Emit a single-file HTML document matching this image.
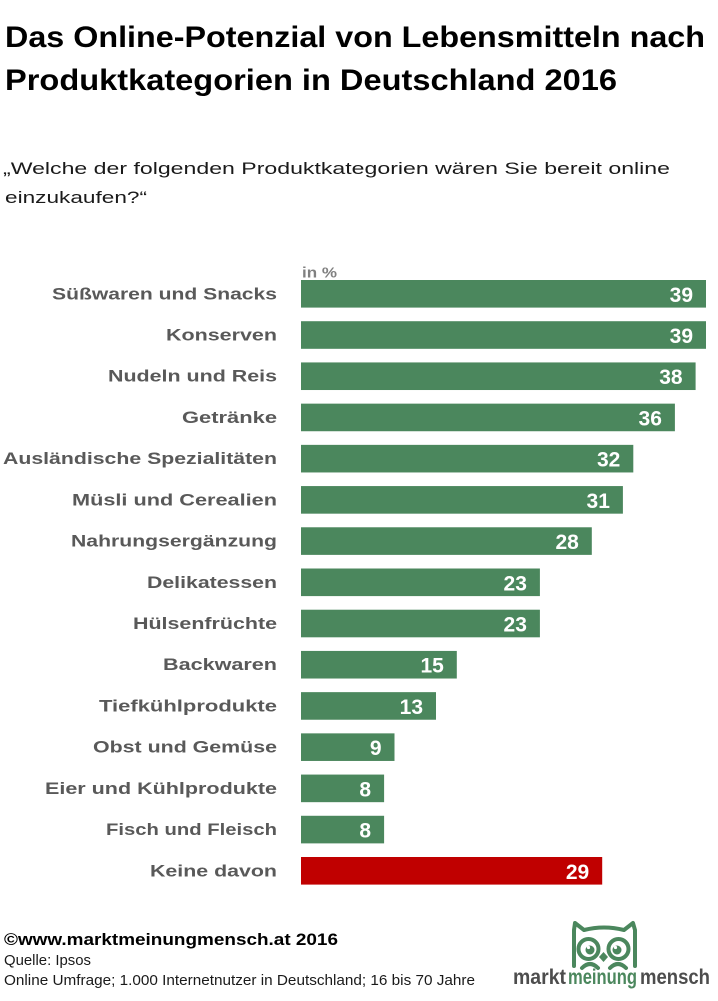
<!DOCTYPE html>
<html>
<head>
<meta charset="utf-8">
<style>
  html,body{margin:0;padding:0;background:#fff;}
  svg{display:block;}
  .t{font-family:"Liberation Sans",sans-serif;}
</style>
</head>
<body>
<svg width="718" height="1001" viewBox="0 0 718 1001" xmlns="http://www.w3.org/2000/svg">
  <rect width="718" height="1001" fill="#fff"/>
  <!-- Title -->
  <text class="t" x="5" y="47" font-size="30" font-weight="bold" fill="#000" textLength="700" lengthAdjust="spacingAndGlyphs">Das Online-Potenzial von Lebensmitteln nach</text>
  <text class="t" x="5" y="90" font-size="30" font-weight="bold" fill="#000" textLength="612" lengthAdjust="spacingAndGlyphs">Produktkategorien in Deutschland 2016</text>
  <!-- Subtitle -->
  <text class="t" x="3" y="174" font-size="17" fill="#1a1a1a" textLength="667" lengthAdjust="spacingAndGlyphs">„Welche der folgenden Produktkategorien wären Sie bereit online</text>
  <text class="t" x="5" y="203" font-size="17" fill="#1a1a1a" textLength="142" lengthAdjust="spacingAndGlyphs">einzukaufen?“</text>

  <!-- in % -->
  <text class="t" x="302" y="277.5" font-size="15" font-weight="bold" fill="#808080" textLength="35" lengthAdjust="spacingAndGlyphs">in %</text>

  <g class="t" font-weight="bold" font-size="17" fill="#595959" text-anchor="end">
    <text x="277" y="299.25" textLength="225" lengthAdjust="spacingAndGlyphs">Süßwaren und Snacks</text>
    <text x="277" y="340.46" textLength="111" lengthAdjust="spacingAndGlyphs">Konserven</text>
    <text x="277" y="381.68" textLength="169" lengthAdjust="spacingAndGlyphs">Nudeln und Reis</text>
    <text x="277" y="422.89" textLength="95" lengthAdjust="spacingAndGlyphs">Getränke</text>
    <text x="277" y="464.11" textLength="274" lengthAdjust="spacingAndGlyphs">Ausländische Spezialitäten</text>
    <text x="277" y="505.32" textLength="205" lengthAdjust="spacingAndGlyphs">Müsli und Cerealien</text>
    <text x="277" y="546.53" textLength="206" lengthAdjust="spacingAndGlyphs">Nahrungsergänzung</text>
    <text x="277" y="587.75" textLength="130" lengthAdjust="spacingAndGlyphs">Delikatessen</text>
    <text x="277" y="628.96" textLength="144" lengthAdjust="spacingAndGlyphs">Hülsenfrüchte</text>
    <text x="277" y="670.18" textLength="114" lengthAdjust="spacingAndGlyphs">Backwaren</text>
    <text x="277" y="711.39" textLength="178" lengthAdjust="spacingAndGlyphs">Tiefkühlprodukte</text>
    <text x="277" y="752.61" textLength="184" lengthAdjust="spacingAndGlyphs">Obst und Gemüse</text>
    <text x="277" y="793.82" textLength="232" lengthAdjust="spacingAndGlyphs">Eier und Kühlprodukte</text>
    <text x="277" y="835.03" textLength="171" lengthAdjust="spacingAndGlyphs">Fisch und Fleisch</text>
    <text x="277" y="876.25" textLength="127" lengthAdjust="spacingAndGlyphs">Keine davon</text>
  </g>

  <g fill="#4b875d">
    <rect x="301" y="280" width="405" height="27.6"/>
    <rect x="301" y="321.21" width="405" height="27.6"/>
    <rect x="301" y="362.43" width="394.6" height="27.6"/>
    <rect x="301" y="403.64" width="373.9" height="27.6"/>
    <rect x="301" y="444.86" width="332.3" height="27.6"/>
    <rect x="301" y="486.07" width="321.9" height="27.6"/>
    <rect x="301" y="527.28" width="290.8" height="27.6"/>
    <rect x="301" y="568.5" width="238.9" height="27.6"/>
    <rect x="301" y="609.71" width="238.9" height="27.6"/>
    <rect x="301" y="650.93" width="155.8" height="27.6"/>
    <rect x="301" y="692.14" width="135" height="27.6"/>
    <rect x="301" y="733.36" width="93.5" height="27.6"/>
    <rect x="301" y="774.57" width="83.1" height="27.6"/>
    <rect x="301" y="815.78" width="83.1" height="27.6"/>
  </g>
  <rect x="301" y="857" width="301.2" height="27.6" fill="#c00000"/>

  <g class="t" font-weight="bold" font-size="21" fill="#fff" text-anchor="end">
    <text x="693" y="301.75">39</text>
    <text x="693" y="342.96">39</text>
    <text x="682.6" y="384.18">38</text>
    <text x="661.9" y="425.39">36</text>
    <text x="620.3" y="466.61">32</text>
    <text x="609.9" y="507.82">31</text>
    <text x="578.8" y="549.03">28</text>
    <text x="526.9" y="590.25">23</text>
    <text x="526.9" y="631.46">23</text>
    <text x="443.8" y="672.68">15</text>
    <text x="423" y="713.89">13</text>
    <text x="381.5" y="755.11">9</text>
    <text x="371.1" y="796.32">8</text>
    <text x="371.1" y="837.53">8</text>
    <text x="589.2" y="878.75">29</text>
  </g>

  <!-- Footer -->
  <text class="t" x="4" y="945" font-size="17" font-weight="bold" fill="#000" textLength="334" lengthAdjust="spacingAndGlyphs">©www.marktmeinungmensch.at 2016</text>
  <text class="t" x="4" y="965" font-size="15" fill="#1a1a1a" textLength="87" lengthAdjust="spacingAndGlyphs">Quelle: Ipsos</text>
  <text class="t" x="4" y="985" font-size="15" fill="#1a1a1a" textLength="471" lengthAdjust="spacingAndGlyphs">Online Umfrage; 1.000 Internetnutzer in Deutschland; 16 bis 70 Jahre</text>

  <!-- Logo owl -->
  <g fill="none" stroke="#4b875d" stroke-width="4" stroke-linecap="round" stroke-linejoin="round">
    <path d="M574 966 L574 930 L575 923 L584 930 Q604 925 624 930 L633 923 L635 930 L635 966"/>
    <circle cx="588.5" cy="949" r="10"/>
    <circle cx="618.5" cy="949" r="10"/>
    <path d="M582 968 Q590 960 598 968"/>
    <path d="M610 968 Q618 960 626 968"/>
  </g>
  <g fill="#4b875d">
    <circle cx="590" cy="950" r="4.5"/>
    <circle cx="617" cy="950" r="4.5"/>
    <path d="M603.5 952 L608 957 L603.5 962 L599 957 Z"/>
  </g>
  <g fill="#fff">
    <circle cx="588.5" cy="947.5" r="1.6"/>
    <circle cx="615.5" cy="947.5" r="1.6"/>
  </g>
  <g class="t" font-weight="bold" font-size="21">
    <text x="513" y="984" fill="#4d4d4d" textLength="53" lengthAdjust="spacingAndGlyphs">markt</text>
    <text x="568" y="984" fill="#4b875d" textLength="69" lengthAdjust="spacingAndGlyphs">meinung</text>
    <text x="640" y="984" fill="#4d4d4d" textLength="70" lengthAdjust="spacingAndGlyphs">mensch</text>
  </g>
</svg>
</body>
</html>
